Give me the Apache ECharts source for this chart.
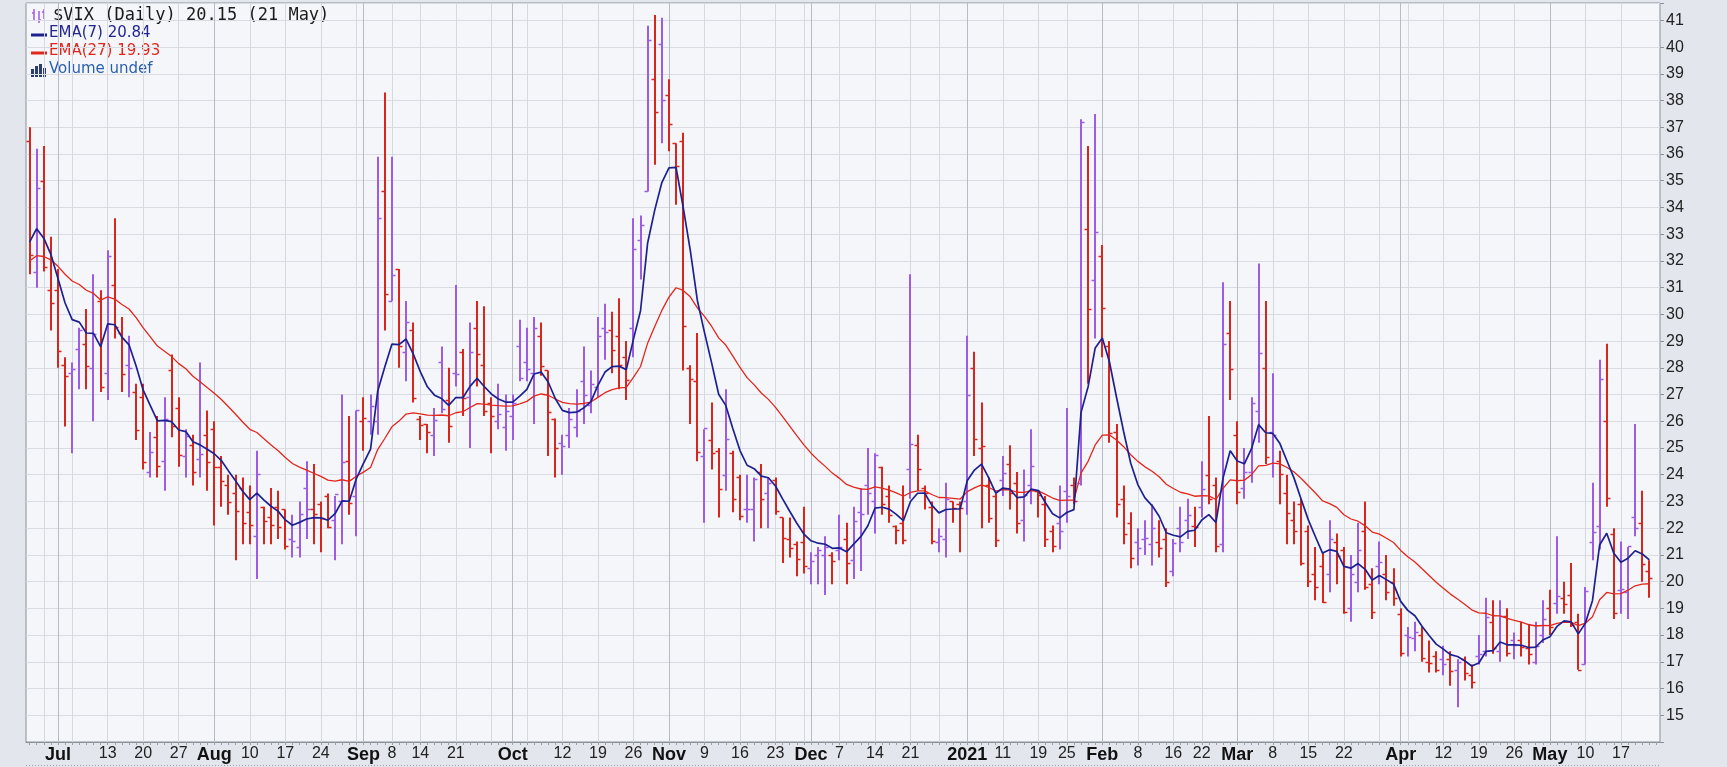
<!DOCTYPE html>
<html><head><meta charset="utf-8">
<script src="https://cdn.jsdelivr.net/npm/echarts@6/dist/echarts.min.js"></script>
<style>html,body{margin:0;padding:0;background:#e3e6ed;}#c{width:1727px;height:767px;}</style>
</head><body><div id="c"></div>
<script>
const dates = [
'2020-06-25','2020-06-26','2020-06-29','2020-06-30',
'2020-07-01','2020-07-02','2020-07-06','2020-07-07','2020-07-08','2020-07-09','2020-07-10','2020-07-13','2020-07-14','2020-07-15','2020-07-16','2020-07-17','2020-07-20','2020-07-21','2020-07-22','2020-07-23','2020-07-24','2020-07-27','2020-07-28','2020-07-29','2020-07-30','2020-07-31',
'2020-08-03','2020-08-04','2020-08-05','2020-08-06','2020-08-07','2020-08-10','2020-08-11','2020-08-12','2020-08-13','2020-08-14','2020-08-17','2020-08-18','2020-08-19','2020-08-20','2020-08-21','2020-08-24','2020-08-25','2020-08-26','2020-08-27','2020-08-28','2020-08-31',
'2020-09-01','2020-09-02','2020-09-03','2020-09-04','2020-09-08','2020-09-09','2020-09-10','2020-09-11','2020-09-14','2020-09-15','2020-09-16','2020-09-17','2020-09-18','2020-09-21','2020-09-22','2020-09-23','2020-09-24','2020-09-25','2020-09-28','2020-09-29','2020-09-30',
'2020-10-01','2020-10-02','2020-10-05','2020-10-06','2020-10-07','2020-10-08','2020-10-09','2020-10-12','2020-10-13','2020-10-14','2020-10-15','2020-10-16','2020-10-19','2020-10-20','2020-10-21','2020-10-22','2020-10-23','2020-10-26','2020-10-27','2020-10-28','2020-10-29','2020-10-30',
'2020-11-02','2020-11-03','2020-11-04','2020-11-05','2020-11-06','2020-11-09','2020-11-10','2020-11-11','2020-11-12','2020-11-13','2020-11-16','2020-11-17','2020-11-18','2020-11-19','2020-11-20','2020-11-23','2020-11-24','2020-11-25','2020-11-27','2020-11-30',
'2020-12-01','2020-12-02','2020-12-03','2020-12-04','2020-12-07','2020-12-08','2020-12-09','2020-12-10','2020-12-11','2020-12-14','2020-12-15','2020-12-16','2020-12-17','2020-12-18','2020-12-21','2020-12-22','2020-12-23','2020-12-24','2020-12-28','2020-12-29','2020-12-30','2020-12-31',
'2021-01-04','2021-01-05','2021-01-06','2021-01-07','2021-01-08','2021-01-11','2021-01-12','2021-01-13','2021-01-14','2021-01-15','2021-01-19','2021-01-20','2021-01-21','2021-01-22','2021-01-25','2021-01-26','2021-01-27','2021-01-28','2021-01-29',
'2021-02-01','2021-02-02','2021-02-03','2021-02-04','2021-02-05','2021-02-08','2021-02-09','2021-02-10','2021-02-11','2021-02-12','2021-02-16','2021-02-17','2021-02-18','2021-02-19','2021-02-22','2021-02-23','2021-02-24','2021-02-25','2021-02-26',
'2021-03-01','2021-03-02','2021-03-03','2021-03-04','2021-03-05','2021-03-08','2021-03-09','2021-03-10','2021-03-11','2021-03-12','2021-03-15','2021-03-16','2021-03-17','2021-03-18','2021-03-19','2021-03-22','2021-03-23','2021-03-24','2021-03-25','2021-03-26','2021-03-29','2021-03-30','2021-03-31',
'2021-04-01','2021-04-05','2021-04-06','2021-04-07','2021-04-08','2021-04-09','2021-04-12','2021-04-13','2021-04-14','2021-04-15','2021-04-16','2021-04-19','2021-04-20','2021-04-21','2021-04-22','2021-04-23','2021-04-26','2021-04-27','2021-04-28','2021-04-29','2021-04-30',
'2021-05-03','2021-05-04','2021-05-05','2021-05-06','2021-05-07','2021-05-10','2021-05-11','2021-05-12','2021-05-13','2021-05-14','2021-05-17','2021-05-18','2021-05-19','2021-05-20','2021-05-21'
];

const open = [
36.5,31.6,35.0,30.9,
30.9,28.1,27.8,28.7,28.9,28.0,30.5,27.8,31.1,29.3,28.1,27.1,26.9,24.1,25.4,24.5,27.9,26.5,24.7,25.1,24.6,25.5,
25.7,24.3,23.6,23.3,23.5,22.6,21.7,22.8,22.4,22.8,22.7,21.6,21.3,23.5,22.7,22.9,23.2,22.3,23.0,24.5,23.2,
26.0,26.0,26.0,34.6,30.5,31.7,28.6,29.4,26.1,25.9,25.5,28.2,26.8,27.8,28.6,26.9,29.5,28.1,26.7,26.0,25.8,
26.2,28.8,28.2,27.8,29.2,27.9,26.1,25.2,25.5,25.8,27.5,26.6,27.3,29.5,29.4,29.2,28.4,29.5,32.8,34.6,38.8,40.1,
38.2,36.4,36.5,28.0,27.5,24.7,25.3,24.9,24.0,24.8,23.9,22.7,22.7,24.1,23.3,23.8,22.4,21.6,21.4,21.5,
20.5,21.0,21.0,21.0,21.2,21.6,20.8,22.6,23.6,23.0,24.3,23.2,22.1,22.2,24.2,25.1,23.5,22.8,21.5,21.6,23.0,22.9,
23.0,28.0,25.0,23.6,23.2,23.8,24.4,23.7,22.3,23.6,23.4,22.9,21.9,22.2,23.4,23.6,23.7,33.2,31.3,
32.2,28.8,25.6,23.1,22.2,21.5,21.6,21.4,21.5,21.6,20.4,22.0,22.3,22.1,22.8,24.0,23.6,21.4,29.3,
25.5,23.5,24.1,26.4,28.0,25.6,24.5,23.3,22.3,22.9,21.9,20.3,20.6,20.3,21.5,21.2,19.0,20.0,21.9,19.9,20.6,20.3,20.0,
18.8,18.0,17.9,18.0,17.0,17.2,17.1,17.1,16.7,17.1,16.5,17.2,17.4,18.5,17.4,18.7,17.8,17.8,17.5,17.0,18.0,
19.0,19.2,19.4,19.5,18.5,16.9,21.5,22.1,26.0,21.8,19.7,19.6,22.4,22.2,20.4
];
const high = [
37.0,36.2,36.3,32.9,
31.7,28.4,28.2,29.5,30.2,31.5,30.9,32.4,33.6,29.9,29.2,27.4,27.4,25.6,26.2,26.9,28.5,26.9,25.7,25.5,28.2,26.4,
26.0,24.7,24.0,24.0,23.9,23.6,24.9,22.8,23.5,23.4,22.7,22.5,23.0,24.5,24.4,23.0,23.3,23.2,27.0,26.2,26.4,
26.9,27.0,35.9,38.3,35.9,31.7,30.5,29.7,26.2,25.9,26.5,28.8,28.0,31.1,28.7,29.7,30.5,30.3,26.9,27.4,27.0,
27.0,29.8,29.5,29.9,29.7,27.9,26.1,25.5,26.5,27.2,28.8,27.9,29.9,30.4,30.1,30.6,29.0,33.6,33.7,40.8,41.2,41.1,
38.8,36.4,36.8,28.1,29.3,25.7,26.7,25.0,27.2,24.9,24.0,24.0,23.9,24.4,23.9,23.9,22.4,22.4,21.5,22.8,
21.1,21.3,21.7,21.1,22.5,22.2,22.8,23.5,25.0,24.8,24.3,23.6,22.1,23.6,31.5,25.5,23.6,23.0,22.0,23.7,23.0,23.0,
29.2,28.6,26.7,23.9,23.3,24.7,25.1,24.1,24.2,25.7,23.4,23.2,22.1,23.6,26.5,23.9,37.3,36.3,37.5,
32.6,29.0,25.9,23.6,22.6,22.0,22.3,22.9,22.3,22.0,21.6,22.8,23.1,22.8,24.5,26.2,23.9,31.2,30.5,
26.0,25.0,26.9,31.9,30.5,27.8,24.9,24.0,23.0,23.1,22.1,21.3,21.1,22.3,21.8,21.3,21.0,22.2,23.0,20.5,21.5,21.0,20.5,
19.0,18.3,18.5,18.3,17.8,17.4,17.6,17.4,17.1,17.2,16.9,18.0,19.4,19.3,19.3,19.0,18.1,18.5,18.4,18.5,19.3,
19.7,21.7,20.0,20.7,18.8,19.8,23.7,28.3,28.9,22.0,21.5,21.3,25.9,23.4,20.8
];
const low = [
31.5,31.0,31.6,29.4,
28.0,25.8,24.8,27.2,27.2,26.0,27.1,26.8,29.1,27.1,26.9,25.3,24.2,23.9,23.9,23.4,25.4,24.3,23.9,23.6,23.9,23.4,
22.1,22.8,22.5,20.8,21.4,21.4,20.1,21.4,21.4,21.6,21.2,20.9,20.9,21.6,21.4,21.1,22.0,20.8,21.4,22.5,21.7,
24.9,25.5,25.5,29.4,30.5,28.0,27.5,26.7,25.3,24.8,24.7,26.3,25.2,27.3,26.2,25.0,27.3,26.2,24.8,25.7,24.9,
25.3,27.5,27.5,25.9,27.7,24.7,23.9,24.0,25.0,25.4,25.9,26.3,26.9,28.3,27.8,27.2,26.8,28.4,31.3,34.6,35.6,36.4,
36.1,34.1,27.9,25.9,24.5,22.2,24.2,22.4,23.4,22.6,22.3,22.2,21.5,22.0,22.0,22.5,20.7,20.9,20.2,20.3,
19.9,19.9,19.5,19.9,20.8,19.9,20.1,20.4,22.5,21.8,22.5,22.2,21.4,21.4,23.1,23.4,22.7,21.4,21.1,20.9,22.2,21.1,
22.5,24.7,22.0,22.2,21.3,23.2,22.7,21.8,21.5,22.9,22.4,21.3,21.1,21.2,22.2,22.9,23.6,27.4,29.1,
28.4,25.2,22.4,21.4,20.5,20.6,21.0,20.6,20.9,19.8,20.2,21.1,21.6,21.3,22.4,22.9,21.1,21.1,26.8,
22.9,23.1,23.7,25.2,24.4,23.9,22.9,21.4,21.4,20.6,19.8,19.3,19.2,19.6,19.9,18.8,18.5,19.6,19.7,18.6,19.9,19.3,19.1,
17.2,17.2,17.4,17.0,16.6,16.6,16.5,16.1,15.3,16.3,16.0,16.9,17.2,17.3,17.0,17.2,17.1,17.2,16.9,16.9,17.7,
18.0,18.8,18.8,18.3,16.7,16.9,20.8,21.2,22.8,18.6,18.8,18.6,21.7,20.0,19.4
];
const close = [
32.22,34.73,31.78,30.43,
28.62,27.68,27.94,29.43,28.08,29.26,27.29,32.19,29.52,27.76,28.00,25.68,24.46,24.84,24.32,26.08,25.84,24.74,25.44,24.10,24.76,24.46,
24.28,23.76,22.99,22.65,22.21,22.13,24.03,22.28,22.13,22.05,21.35,21.51,22.54,22.72,22.54,22.37,22.03,23.27,24.47,22.96,26.41,
26.12,26.57,33.60,30.75,31.46,28.81,29.71,26.87,25.85,25.59,26.04,26.46,25.83,27.78,26.86,28.58,28.51,26.38,26.19,26.27,26.37,
26.70,27.63,27.96,29.48,28.06,26.36,25.00,25.07,26.07,26.40,26.97,27.41,29.18,29.35,28.65,28.11,27.55,32.46,33.35,40.28,37.59,38.02,
37.13,35.55,29.57,27.58,24.86,25.75,24.80,23.45,25.35,23.10,22.45,22.71,23.84,23.11,23.70,22.66,21.64,21.25,20.84,20.57,
20.77,21.17,21.28,20.79,21.30,20.68,22.27,22.52,23.31,24.72,22.89,22.50,21.93,21.57,25.16,24.23,23.31,21.53,21.70,23.08,22.77,22.75,
26.97,25.34,25.07,22.37,21.56,24.08,23.33,22.21,23.25,24.34,23.24,21.58,21.32,21.91,23.19,23.02,37.21,30.21,33.09,
30.24,25.56,22.91,21.77,20.87,21.24,21.63,21.99,21.25,19.97,21.46,21.50,22.49,22.05,23.45,23.11,21.34,28.89,27.95,
23.35,24.10,26.67,28.57,24.66,25.47,24.03,22.56,21.91,20.69,20.03,19.79,19.23,21.58,20.95,18.88,20.30,21.20,19.81,18.86,20.74,19.61,19.40,
17.33,17.91,18.12,17.16,16.95,16.69,16.91,16.65,16.99,16.57,16.25,17.30,18.68,17.50,18.71,17.33,17.64,17.56,17.28,17.61,18.61,
18.31,19.48,19.15,18.39,16.69,19.66,21.84,27.59,23.13,18.81,19.72,21.34,21.99,20.67,20.15
];
const prevCloseBeforeStart = 33.84;   // close of the session before the first bar (sets first bar colour)
const ema7Start = 32.7;                // EMA values at the first bar
const ema27Start = 32.0;

const tickLabelDates = ['2020-07-01','2020-07-13','2020-07-20','2020-07-27','2020-08-03','2020-08-10','2020-08-17','2020-08-24','2020-09-01','2020-09-08','2020-09-14','2020-09-21','2020-10-01','2020-10-12','2020-10-19','2020-10-26','2020-11-02','2020-11-09','2020-11-16','2020-11-23','2020-12-01','2020-12-07','2020-12-14','2020-12-21','2021-01-04','2021-01-11','2021-01-19','2021-01-25','2021-02-01','2021-02-08','2021-02-16','2021-02-22','2021-03-01','2021-03-08','2021-03-15','2021-03-22','2021-04-01','2021-04-12','2021-04-19','2021-04-26','2021-05-03','2021-05-10','2021-05-17'];
const tickLabelTexts = ['Jul','13','20','27','Aug','10','17','24','Sep','8','14','21','Oct','12','19','26','Nov','9','16','23','Dec','7','14','21','2021','11','19','25','Feb','8','16','22','Mar','8','15','22','Apr','12','19','26','May','10','17'];
const monthLabels = ['Jul','Aug','Sep','Oct','Nov','Dec','2021','Feb','Mar','Apr','May'];

const UP = '#9d5ce6', DOWN = '#d8261d';

// ---- derived structures ----
const labelMap = {};
tickLabelDates.forEach((d, i) => { labelMap[d] = tickLabelTexts[i]; });
const cats = dates.concat(['']);
const weekStart = new Set(), monthStart = new Set();
for (let i = 1; i < dates.length; i++) {
  const a = new Date(dates[i - 1] + 'T00:00:00Z'), b = new Date(dates[i] + 'T00:00:00Z');
  if (b.getUTCMonth() !== a.getUTCMonth()) monthStart.add(dates[i]);
  else if (b.getUTCDay() < a.getUTCDay() || (b - a) > 4 * 86400000) weekStart.add(dates[i]);
}
const bars = dates.map((d, i) => {
  const prev = i === 0 ? prevCloseBeforeStart : close[i - 1];
  return [d, open[i], high[i], low[i], close[i], close[i] > prev ? 1 : 0];
});
function ema(src, n, seed) {
  const k = 2 / (n + 1), out = [seed];
  for (let i = 1; i < src.length; i++) out.push(out[i - 1] + k * (src[i] - out[i - 1]));
  return out;
}
const ema7 = ema(close, 7, ema7Start);
const ema27 = ema(close, 27, ema27Start);

const chart = echarts.init(document.getElementById('c'), null, { renderer: 'canvas' });
const commonX = {
  type: 'category', data: cats, boundaryGap: true, position: 'bottom', gridIndex: 0
};
chart.setOption({
  animation: false,
  backgroundColor: 'transparent',
  grid: { left: 26, right: 67, top: 3, bottom: 25, show: true, backgroundColor: '#f5f6fa', borderColor: '#8b9099', borderWidth: 1 },
  xAxis: [
    Object.assign({}, commonX, {
      axisLine: { show: true, lineStyle: { color: '#8b9099' } },
      axisTick: { show: true, interval: 0, alignWithLabel: true, length: 3, lineStyle: { color: '#9a9ea7' } },
      axisLabel: {
        interval: (i, v) => labelMap[v] !== undefined,
        margin: 4,
        formatter: (v) => {
          const t = labelMap[v];
          if (t === undefined) return '';
          return monthLabels.indexOf(t) >= 0 ? '{m|' + t + '}' : '{d|' + t + '}';
        },
        rich: {
          m: { fontFamily: 'Liberation Sans', fontWeight: 'bold', fontSize: 18, color: '#111' },
          d: { fontFamily: 'Liberation Sans', fontSize: 16, color: '#222' }
        }
      },
      splitLine: { show: true, alignWithLabel: true, interval: (i, v) => weekStart.has(v), lineStyle: { color: '#d6d9e0', width: 1 } }
    }),
    Object.assign({}, commonX, {
      axisLine: { show: false }, axisTick: { show: false }, axisLabel: { show: false },
      splitLine: { show: true, alignWithLabel: true, interval: (i, v) => monthStart.has(v), lineStyle: { color: '#b7bbc4', width: 1 } }
    })
  ],
  yAxis: {
    type: 'value', position: 'right', min: 14, max: 41.65, interval: 1,
    axisLine: { show: false },
    axisTick: { show: true, length: 4, lineStyle: { color: '#8b9099' } },
    axisLabel: {
      margin: 6, color: '#222', fontFamily: 'Liberation Sans', fontSize: 16,
      formatter: (v) => (Math.abs(v - Math.round(v)) < 1e-6 && v >= 15 && v <= 41) ? String(Math.round(v)) : ''
    },
    splitLine: { show: true, lineStyle: { color: '#d9dce3', width: 1 } }
  },
  series: [
    {
      type: 'custom', name: '$VIX', xAxisIndex: 0, data: bars,
      encode: { x: 0, y: [1, 2, 3, 4] },
      renderItem: function (params, api) {
        const x = api.value(0);
        const pH = api.coord([x, api.value(2)]), pL = api.coord([x, api.value(3)]);
        const pO = api.coord([x, api.value(1)]), pC = api.coord([x, api.value(4)]);
        const col = api.value(5) ? UP : DOWN;
        const cx = Math.round(pH[0]);
        return {
          type: 'group', children: [
            { type: 'line', shape: { x1: cx, y1: pH[1], x2: cx, y2: pL[1] }, style: { stroke: col, lineWidth: 2 } },
            { type: 'line', shape: { x1: cx - 3.5, y1: Math.round(pO[1]) + 0.5, x2: cx, y2: Math.round(pO[1]) + 0.5 }, style: { stroke: col, lineWidth: 1.5 } },
            { type: 'line', shape: { x1: cx, y1: Math.round(pC[1]) + 0.5, x2: cx + 3.5, y2: Math.round(pC[1]) + 0.5 }, style: { stroke: col, lineWidth: 1.5 } }
          ]
        };
      }
    },
    {
      type: 'line', name: 'EMA(27)', xAxisIndex: 0, data: dates.map((d, i) => [d, ema27[i]]),
      showSymbol: false, symbol: 'none', lineStyle: { color: '#e2261c', width: 1.3 }, z: 3
    },
    {
      type: 'line', name: 'EMA(7)', xAxisIndex: 0, data: dates.map((d, i) => [d, ema7[i]]),
      showSymbol: false, symbol: 'none', lineStyle: { color: '#1d2190', width: 1.7 }, z: 4
    }
  ],
  graphic: [
    { type: 'line', shape: { x1: 34, y1: 9, x2: 34, y2: 21 }, style: { stroke: UP, lineWidth: 1.5 } },
    { type: 'line', shape: { x1: 32, y1: 13, x2: 34, y2: 13 }, style: { stroke: UP, lineWidth: 1.5 } },
    { type: 'line', shape: { x1: 39, y1: 11, x2: 39, y2: 23 }, style: { stroke: UP, lineWidth: 1.5 } },
    { type: 'line', shape: { x1: 39, y1: 20, x2: 41, y2: 20 }, style: { stroke: UP, lineWidth: 1.5 } },
    { type: 'line', shape: { x1: 44, y1: 9, x2: 44, y2: 19 }, style: { stroke: UP, lineWidth: 1.5 } },
    { type: 'line', shape: { x1: 42, y1: 12, x2: 44, y2: 12 }, style: { stroke: UP, lineWidth: 1.5 } },
    { type: 'text', left: 53, top: 7, style: { text: '$VIX (Daily) 20.15 (21 May)', font: '17px "DejaVu Sans Mono"', fill: '#1b1b1b' } },
    { type: 'line', shape: { x1: 31, y1: 35, x2: 47, y2: 35 }, style: { stroke: '#1d2190', lineWidth: 3 } },
    { type: 'text', left: 49, top: 26, style: { text: 'EMA(7) 20.84', font: '15px "DejaVu Sans"', fill: '#23268f' } },
    { type: 'line', shape: { x1: 31, y1: 53, x2: 47, y2: 53 }, style: { stroke: '#e2261c', lineWidth: 3 } },
    { type: 'text', left: 49, top: 44, style: { text: 'EMA(27) 19.93', font: '15px "DejaVu Sans"', fill: '#e0261c' } },
    { type: 'rect', shape: { x: 31, y: 69, width: 3, height: 8 }, style: { fill: '#2c3e70' } },
    { type: 'rect', shape: { x: 35, y: 66, width: 3, height: 11 }, style: { fill: '#2c3e70' } },
    { type: 'rect', shape: { x: 39, y: 64, width: 3, height: 13 }, style: { fill: '#2c3e70' } },
    { type: 'rect', shape: { x: 43, y: 68, width: 3, height: 9 }, style: { fill: '#2c3e70' } },
    { type: 'text', left: 49, top: 62, style: { text: 'Volume undef', font: '15px "DejaVu Sans"', fill: '#2b5fae' } },
    { type: 'line', shape: { x1: 26, y1: 765.5, x2: 1660, y2: 765.5 }, style: { stroke: '#9a9ea7', lineWidth: 1, lineDash: [1, 2] } }
  ]
});
</script>
</body></html>
